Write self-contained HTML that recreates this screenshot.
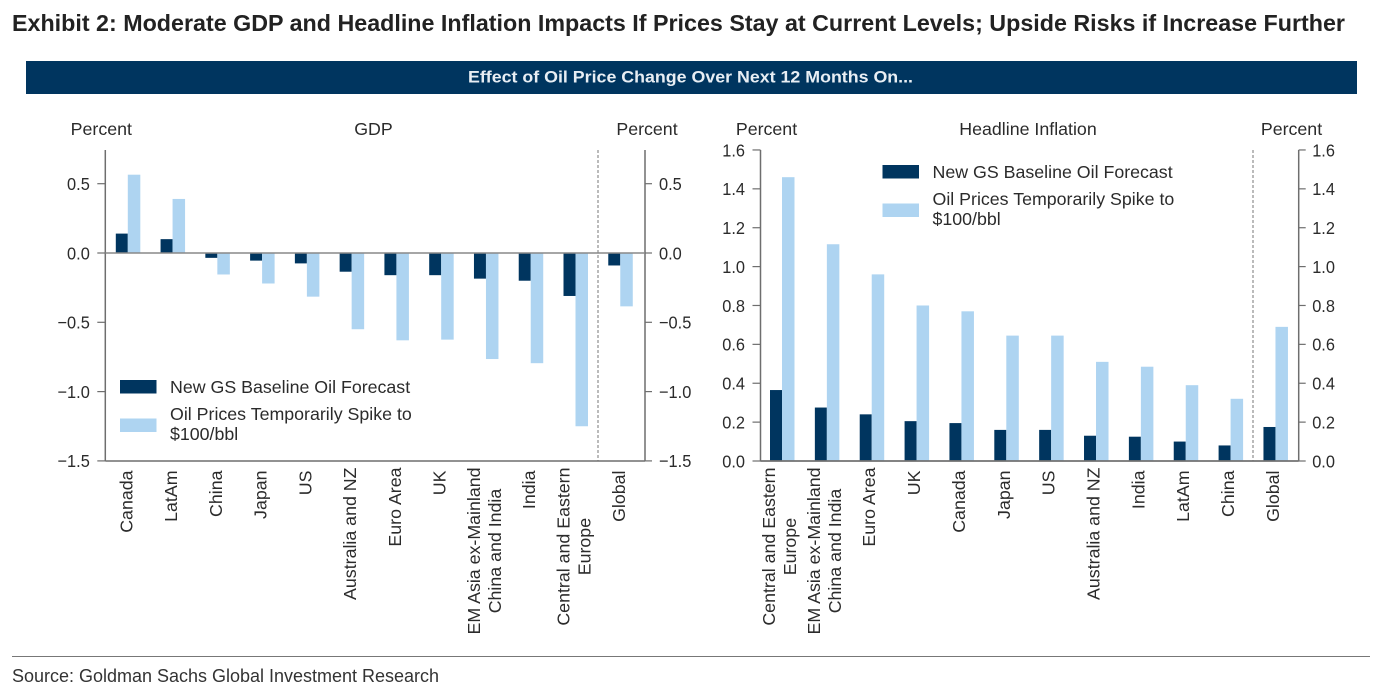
<!DOCTYPE html>
<html lang="en">
<head>
<meta charset="utf-8">
<title>Exhibit 2</title>
<style>
html,body{margin:0;padding:0;background:#fff;}
body{width:1384px;height:698px;overflow:hidden;}
svg{display:block;font-family:"Liberation Sans",sans-serif;}
</style>
</head>
<body>
<svg id="root" width="1384" height="698" viewBox="0 0 1384 698">
  <text x="12" y="31" font-size="23.5" font-weight="700" fill="#222" textLength="1333" lengthAdjust="spacingAndGlyphs">Exhibit 2: Moderate GDP and Headline Inflation Impacts If Prices Stay at Current Levels; Upside Risks if Increase Further</text>
  <rect x="26" y="61" width="1331" height="33" fill="#00355f"></rect>
  <text x="690.5" y="82.5" font-size="16.5" font-weight="700" fill="#e8eef4" text-anchor="middle" textLength="445" lengthAdjust="spacingAndGlyphs">Effect of Oil Price Change Over Next 12 Months On...</text>
  <g id="gdp"></g>
  <g id="inf"></g>
  <rect x="12" y="656" width="1358" height="1" fill="#777"></rect>
  <text x="12" y="682" font-size="18" fill="#333" textLength="427" lengthAdjust="spacingAndGlyphs">Source: Goldman Sachs Global Investment Research</text>
</svg>
<script>
var gdpCategories = [["Canada"],["LatAm"],["China"],["Japan"],["US"],["Australia and NZ"],["Euro Area"],["UK"],["EM Asia ex-Mainland","China and India"],["India"],["Central and Eastern","Europe"],["Global"]];
var gdpBaseline = [0.14,0.10,-0.035,-0.055,-0.075,-0.135,-0.16,-0.16,-0.185,-0.20,-0.31,-0.09];
var gdpSpike = [0.565,0.39,-0.155,-0.22,-0.315,-0.55,-0.63,-0.625,-0.765,-0.795,-1.25,-0.385];
var gdpTicks = [0.5,0,-0.5,-1,-1.5];

var infCategories = [["Central and Eastern","Europe"],["EM Asia ex-Mainland","China and India"],["Euro Area"],["UK"],["Canada"],["Japan"],["US"],["Australia and NZ"],["India"],["LatAm"],["China"],["Global"]];
var infBaseline = [0.365,0.275,0.24,0.205,0.195,0.16,0.16,0.13,0.125,0.10,0.08,0.175];
var infSpike = [1.46,1.115,0.96,0.80,0.77,0.645,0.645,0.51,0.485,0.39,0.32,0.69];
var infTicks = [1.6,1.4,1.2,1,0.8,0.6,0.4,0.2,0];

var seriesNames = ["New GS Baseline Oil Forecast","Oil Prices Temporarily Spike to","$100/bbl"];
var NS = "http://www.w3.org/2000/svg";
var DARK = "#00355f", LIGHT = "#aed4f1", AXIS = "#6e6e6e", TXT = "#2b2b2b", FS = 17.8;

function mk(parent, tag, attrs, text) {
  var el = document.createElementNS(NS, tag);
  for (var k in attrs) el.setAttribute(k, attrs[k]);
  if (text !== undefined) el.textContent = text;
  parent.appendChild(el);
  return el;
}
function fmt(v) {
  return (v < 0 ? "\u2212" : "") + Math.abs(v).toFixed(1);
}
function condense(el) {
  var w = el.getComputedTextLength();
  el.setAttribute("textLength", (w * 0.92).toFixed(2));
  el.setAttribute("lengthAdjust", "spacingAndGlyphs");
}
function drawChart(cfg) {
  var g = document.getElementById(cfg.id);
  var yOf = cfg.y;
  var n = cfg.categories.length;
  function band(i) { return cfg.x0 + cfg.step * i; }

  // bars
  for (var i = 0; i < n; i++) {
    var c = band(i), y0 = yOf(0);
    var ya = yOf(cfg.baseline[i]), yb = yOf(cfg.spike[i]);
    var b1 = mk(g, "rect", {x: c - 12, y: Math.min(ya, y0), width: 12, height: Math.abs(ya - y0), fill: DARK});
    
    
    var b2 = mk(g, "rect", {x: c, y: Math.min(yb, y0), width: 12.5, height: Math.abs(yb - y0), fill: LIGHT});
    
    
  }

  // divider
  var d = mk(g, "line", {x1: cfg.divider, x2: cfg.divider, y1: 150, y2: 461, stroke: "#777", "stroke-width": 1, "stroke-dasharray": "3 2"});
  
  

  // axes
  var al = mk(g, "line", {x1: cfg.left, x2: cfg.left, y1: 150, y2: 461, stroke: AXIS, "stroke-width": 1.5});
  
  
  var ar = mk(g, "line", {x1: cfg.right, x2: cfg.right, y1: 150, y2: 461, stroke: AXIS, "stroke-width": 1.5});
  
  
  var ab = mk(g, "line", {x1: cfg.left, x2: cfg.right, y1: yOf(0), y2: yOf(0), stroke: "#888", "stroke-width": 1.5});
  
  
  var ab2 = mk(g, "line", {x1: cfg.left, x2: cfg.right, y1: 461, y2: 461, stroke: AXIS, "stroke-width": 1.5});
  
  

  // ticks
  cfg.ticks.forEach(function (t) {
    var y = yOf(t);
    var tl = mk(g, "line", {x1: cfg.left - 8, x2: cfg.left, y1: y, y2: y, stroke: AXIS, "stroke-width": 1.2});
    
    
    var tr = mk(g, "line", {x1: cfg.right, x2: cfg.right + 7, y1: y, y2: y, stroke: AXIS, "stroke-width": 1.2});
    
    
    var la = mk(g, "text", {x: cfg.left - 15.5, y: y + 6.3, "font-size": FS, fill: TXT, "text-anchor": "end"}, fmt(t));
    
    
    condense(la);
    var lb = mk(g, "text", {x: cfg.right + cfg.rightLabel, y: y + 6.3, "font-size": FS, fill: TXT}, fmt(t));
    
    
    condense(lb);
  });

  // category labels
  for (var j = 0; j < n; j++) {
    var lines = cfg.categories[j];
    var cx = band(j) + cfg.labelOff;
    var nodes = [], maxLen = 0;
    for (var m = 0; m < lines.length; m++) {
      var lx = cx + (m - (lines.length - 1) / 2) * 21 + 6.5;
      var tn = mk(g, "text", {"font-size": FS, fill: TXT, "text-anchor": "middle"}, lines[m]);
      
      
      nodes.push([tn, lx]);
      maxLen = Math.max(maxLen, tn.getComputedTextLength());
    }
    var top = maxLen < 75 ? 470.5 : 467.5;
    nodes.forEach(function (p) {
      var cy = top + maxLen / 2;
      p[0].setAttribute("transform", "translate(" + p[1] + "," + cy + ") rotate(-90)");
    });
  }

  // headers
  var h1 = mk(g, "text", {x: cfg.unitL, y: 135, "font-size": FS, fill: TXT, "text-anchor": "middle"}, "Percent");
  
  
  var h2 = mk(g, "text", {x: cfg.titleX, y: 135, "font-size": FS, fill: TXT, "text-anchor": "middle"}, cfg.title);
  
  
  var h3 = mk(g, "text", {x: cfg.unitR, y: 135, "font-size": FS, fill: TXT, "text-anchor": "middle"}, "Percent");
  
  

  // legend
  var lx0 = cfg.legendX, ly0 = cfg.legendY;
  var s1 = mk(g, "rect", {x: lx0, y: ly0, width: 36.5, height: 13.5, fill: DARK});
  
  
  var t1 = mk(g, "text", {x: lx0 + 50, y: ly0 + 13, "font-size": FS, fill: TXT}, seriesNames[0]);
  
  
  var s2 = mk(g, "rect", {x: lx0, y: ly0 + 38.5, width: 36.5, height: 13.5, fill: LIGHT});
  
  
  var t2 = mk(g, "text", {x: lx0 + 50, y: ly0 + 40.2, "font-size": FS, fill: TXT}, seriesNames[1]);
  
  
  var t3 = mk(g, "text", {x: lx0 + 50, y: ly0 + 60.2, "font-size": FS, fill: TXT}, seriesNames[2]);
  
  
}

drawChart({
  id: "gdp", categories: gdpCategories, baseline: gdpBaseline, spike: gdpSpike, ticks: gdpTicks,
  y: function (v) { return 253 - v * 138.6; },
  x0: 127.8, step: 44.77, left: 105.3, right: 645, divider: 598, rightLabel: 14, labelOff: -2,
  unitL: 101.3, titleX: 373.5, unitR: 647, title: "GDP", legendX: 120, legendY: 380
});
drawChart({
  id: "inf", categories: infCategories, baseline: infBaseline, spike: infSpike, ticks: infTicks,
  y: function (v) { return 461 - v * 194.4; },
  x0: 782, step: 44.86, left: 760.5, right: 1298.7, divider: 1253, rightLabel: 13.5, labelOff: -3,
  unitL: 766.5, titleX: 1028, unitR: 1291.5, title: "Headline Inflation", legendX: 882.5, legendY: 165
});
</script>
</body>
</html>
